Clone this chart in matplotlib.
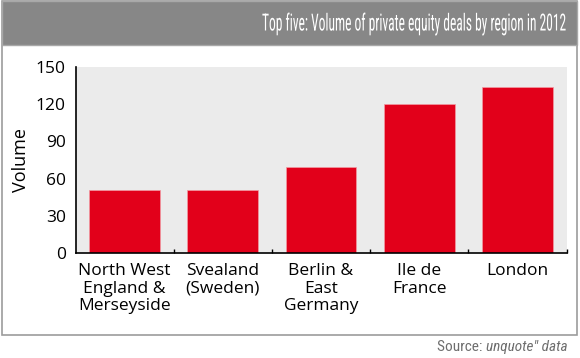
import matplotlib
matplotlib.use("Agg")
import matplotlib.pyplot as plt
from matplotlib import font_manager
from matplotlib.patches import Rectangle
from matplotlib.patheffects import AbstractPathEffect
from matplotlib.transforms import Affine2D

# data
regions = ["North West\nEngland &\nMerseyside", "Svealand\n(Sweden)",
           "Berlin &\nEast\nGermany", "Ile de\nFrance", "London"]
volumes = [51, 51, 69, 120, 134]
y_ticks = [0, 30, 60, 90, 120, 150]

title = "Top five: Volume of private equity deals by region in 2012"

installed = {f.name for f in font_manager.fontManager.ttflist}

def pick(*names):
    for n in names:
        if n in installed:
            return n
    return "DejaVu Sans"

body_font = pick("Open Sans", "Noto Sans", "Lato")
narrow_font = pick("Roboto Condensed", "Liberation Sans Narrow", "Roboto")


class Squeeze(AbstractPathEffect):
    """Narrow the text horizontally around a fixed display x (condensed look)."""
    def __init__(self, sx, x0):
        super().__init__()
        self.sx, self.x0 = sx, x0

    def draw_path(self, renderer, gc, tpath, affine, rgbFace=None):
        squeeze = Affine2D().translate(-self.x0, 0).scale(self.sx, 1).translate(self.x0, 0)
        renderer.draw_path(gc, tpath, affine + squeeze, rgbFace)


plt.rcParams["font.family"] = body_font

fig = plt.figure(figsize=(5.8, 3.58), dpi=100)
W, H = 580, 358

# frame + header band (pixel coords converted to figure fractions)
fig.patches.append(Rectangle((1.5 / W, 1 - 335 / H), 575 / W, 334 / H,
                             transform=fig.transFigure, facecolor="white",
                             edgecolor="#9c9c9c", linewidth=1.2, zorder=-2))
fig.patches.append(Rectangle((1.5 / W, 1 - 45 / H), 575 / W, 44 / H,
                             transform=fig.transFigure, facecolor="#878787",
                             edgecolor="#a8a8a8", linewidth=1.0, zorder=-1))
t_title = fig.text(566 / W, 1 - 24 / H, title, ha="right", va="center",
                   color="white", fontsize=17, family=narrow_font)

ax = fig.add_axes([75.5 / W, 1 - 253 / H, 491 / W, 186 / H])
ax.set_facecolor("#ebebeb")

x = range(len(regions))
ax.bar(x, volumes, width=0.72, color="#e2001a", edgecolor="#f29aa3",
       linewidth=0.5, zorder=2)

ax.set_xlim(-0.5, len(regions) - 0.5)
ax.set_ylim(0, 150)
ax.set_yticks(y_ticks)
ax.set_xticks(list(x))
ax.set_xticklabels(regions, linespacing=1.15)
ax.set_xticks([i + 0.5 for i in x], minor=True)
ax.tick_params(axis="x", which="major", length=0, pad=7, labelsize=12.5)
ax.tick_params(axis="x", which="minor", direction="in", length=3,
               width=1, color="black")
ax.tick_params(axis="y", length=0, pad=7, labelsize=12.5)

for s in ["top", "right"]:
    ax.spines[s].set_visible(False)
for s in ["left", "bottom"]:
    ax.spines[s].set_linewidth(1.2)

ax.set_ylabel("Volume", fontsize=13, labelpad=4)

# source line: upright "Source:" + italic name
src = fig.text(568 / W, 1 - 354 / H, "unquote\" data", ha="right",
               va="bottom", color="#6e6e6e", fontsize=11,
               family=narrow_font, style="italic")
ann = ax.annotate("Source: ", xy=(0, 0), xycoords=src, ha="right",
                  va="bottom", color="#6e6e6e", fontsize=11,
                  family=narrow_font, annotation_clip=False)

# squeeze the title to the width it has in the reference (~304 px)
fig.canvas.draw()
w = t_title.get_window_extent().width
t_title.set_path_effects([Squeeze(304 / w, 566)])

fig.savefig("out.png", dpi=100)
